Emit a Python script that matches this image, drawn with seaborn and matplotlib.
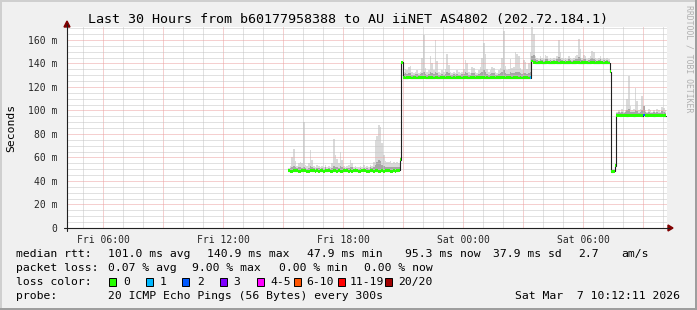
import numpy as np
import pandas as pd
import matplotlib
matplotlib.use("Agg")
import matplotlib.pyplot as plt
import matplotlib.dates as mdates
from matplotlib.patches import Rectangle, Polygon
from matplotlib.lines import Line2D
from matplotlib.ticker import MultipleLocator, FixedLocator, FuncFormatter
import seaborn as sns

# ------------------------------------------------------------------ data
title = "Last 30 Hours from b60177958388 to AU iiNET AS4802 (202.72.184.1)"
start_time = "2026-03-06 15:15"      # first 5-minute step with data
view_start = "2026-03-06 04:12:11"
view_end = "2026-03-07 10:12:11"

median_ms = [
    # Fri afternoon / evening (~48 ms)
    48.8, 48.4, 48.2, 48.6, 48.6, 48.8, 48.4, 48.2, 48.6, 49.0,
    48.6, 48.4, 48.2, 49.2, 48.8, 48.6, 48.4, 48.6, 48.2, 48.6,
    48.8, 48.4, 48.6, 48.6, 49.0, 48.4, 48.2, 48.6, 48.8, 48.4,
    48.6, 48.2, 48.4, 48.6, 48.6, 48.8, 48.4, 48.6, 48.2, 48.6,
    48.8, 48.6, 48.4, 48.2, 49.2, 49.2, 48.8, 48.4, 48.2, 48.6,
    48.6, 48.4, 48.6, 48.8, 48.4, 48.2, 48.6, 48.4, 48.6, 48.8,
    48.6, 48.2, 48.4, 48.6, 48.4, 48.6, 49.0,
    58.0, 141.0,
    # ~128 ms
    128.0, 127.6, 127.8, 128.2, 127.8, 127.6, 127.8, 128.0, 127.6, 127.8,
    127.8, 128.0, 128.2, 127.8, 127.6, 127.8, 128.0, 127.8, 127.6, 128.2,
    127.8, 127.6, 127.8, 127.8, 128.0, 127.6, 127.8, 128.0, 127.8, 127.6,
    127.8, 127.6, 127.8, 128.0, 127.8, 127.6, 127.8, 128.2, 127.8, 127.6,
    127.8, 128.0, 127.8, 127.6, 127.8, 127.8, 128.0, 128.2, 127.8, 127.6,
    127.8, 127.6, 127.8, 128.0, 127.8, 127.6, 127.8, 127.8, 128.0, 128.2,
    127.8, 127.6, 127.8, 128.0, 127.8, 127.6, 127.8, 128.0, 127.8, 127.6,
    127.8, 127.6, 127.8, 128.0, 127.8, 127.6, 128.0,
    142.0,
    # ~140.6 ms
    140.8, 140.6, 140.4, 140.6, 140.8, 140.6, 140.4, 140.6, 140.8, 140.6,
    140.4, 140.6, 140.6, 140.8, 140.6, 140.4, 140.6, 140.8, 140.6, 140.4,
    140.6, 140.6, 140.8, 140.4, 140.6, 140.6, 140.8, 140.6, 140.4, 140.6,
    140.6, 140.8, 140.6, 140.4, 140.6, 140.8, 140.6, 140.4, 140.6, 140.6,
    140.8, 140.6, 140.4, 140.6, 140.6, 140.4,
    133.0, 48.0, 48.2, 53.0,
    # ~95.8 ms
    96.0, 95.8, 95.6, 95.8, 96.0, 95.8, 95.6, 95.8, 96.0, 95.8,
    95.6, 95.8, 95.8, 96.0, 95.8, 95.6, 96.2, 95.8, 95.6, 95.8,
    96.0, 95.8, 95.6, 95.8, 95.8, 96.0, 95.6, 95.8, 95.6, 95.4,
]

smoke_top_ms = [
    51, 53, 60, 67, 57, 53, 55, 56, 55, 90,
    54, 53, 55, 66, 58, 53, 52, 54, 53, 52,
    53, 52, 54, 52, 53, 52, 55, 76, 62, 59,
    55, 65, 58, 53, 52, 53, 54, 58, 55, 52,
    53, 52, 52, 53, 52, 54, 52, 53, 52, 54,
    53, 56, 75, 78, 88, 86, 72, 62, 57, 56,
    56, 57, 55, 56, 55, 56, 55,
    60, 142,
    133, 135, 134, 137, 138, 133, 132, 133, 134, 132,
    133, 145, 164, 136, 133, 134, 146, 140, 134, 160,
    142, 133, 132, 134, 133, 135, 148, 139, 133, 132,
    133, 132, 134, 133, 132, 133, 135, 143, 140, 133,
    132, 137, 136, 133, 132, 134, 137, 145, 157, 148,
    135, 133, 134, 137, 136, 133, 132, 134, 136, 145,
    168, 138, 134, 135, 144, 136, 137, 150, 148, 146,
    136, 134, 143, 141, 135, 140, 150,
    171,
    165, 146, 145, 144, 146, 145, 144, 147, 146, 144,
    145, 144, 145, 144, 146, 160, 150, 145, 144, 145,
    144, 146, 145, 144, 145, 146, 147, 161, 152, 145,
    147, 146, 144, 145, 146, 151, 150, 145, 144, 145,
    146, 144, 145, 144, 145, 144,
    137, 50, 50.5, 55,
    99, 100, 99, 101, 99, 100, 110, 129, 104, 100,
    101, 119, 108, 100, 101, 112, 104, 100, 99, 101,
    100, 99, 100, 99, 101, 100, 99, 103, 102, 100,
]

smoke_mid_ms = [
    50.5, 51, 52, 53, 51.5, 51, 51.5, 51.5, 51, 51.5,
    51, 50.5, 51, 52.5, 51.5, 51, 50.5, 51, 51, 50.5,
    51, 50.5, 51.5, 50.5, 51, 50.5, 51, 53, 52, 51.5,
    51, 52.5, 51.5, 51, 50.5, 51, 51, 51.5, 51.5, 50.5,
    51, 50.5, 50.5, 51, 50.5, 51, 50.5, 51, 50.5, 51.5,
    51, 51.5, 54, 56, 58, 57, 54, 52.5, 52, 52,
    51.5, 52, 51.5, 52, 51.5, 52, 52,
    59, 141.5,
    131, 131.5, 131, 131.5, 132, 130.5, 130.5, 131, 131, 130.5,
    131, 132, 133, 131, 130.5, 131, 132.5, 131.5, 131, 133,
    131.5, 130.5, 130.5, 131, 130.5, 131, 132.5, 131.5, 130.5, 130.5,
    131, 130.5, 131, 130.5, 130.5, 131, 131, 132.5, 131.5, 130.5,
    130.5, 131.5, 131.5, 130.5, 130.5, 131, 131.5, 132.5, 134, 132.5,
    131, 130.5, 131, 131.5, 131.5, 130.5, 130.5, 131, 131.5, 132.5,
    134, 131.5, 131, 131, 132.5, 131.5, 131.5, 133, 133, 132.5,
    131.5, 131, 132, 131.5, 131, 132, 133,
    146,
    147, 143.5, 143, 142.5, 143.5, 143, 142.5, 143.5, 143.5, 142.5,
    143, 142.5, 143, 142.5, 143.5, 145.5, 144, 143, 142.5, 143,
    142.5, 143.5, 143, 142.5, 143, 143.5, 143.5, 145.5, 144.5, 143,
    143.5, 143.5, 142.5, 143, 143.5, 144.5, 144, 143, 142.5, 143,
    143.5, 142.5, 143, 142.5, 143, 142.5,
    135, 49, 49.5, 54,
    98, 98.5, 98, 98.5, 98, 98.5, 100, 101, 99, 98.5,
    98.5, 100.5, 99.5, 98, 99, 100.5, 104, 98.5, 98, 98.5,
    98, 98, 98.5, 98, 98.5, 98, 98, 99.5, 99, 98,
]

# steps with packet loss (index of 5-minute step, lost pings out of 20)
loss_steps = [145, 213]
loss_counts = [1, 2]

loss_labels = ["0", "1", "2", "3", "4-5", "6-10", "11-19", "20/20"]
loss_colors = ["#26ff00", "#00b8ff", "#0059ff", "#7e00ff",
               "#ff00ff", "#ff5500", "#ff0000", "#a10000"]

y_ticks = [0, 20, 40, 60, 80, 100, 120, 140, 160]
y_tick_labels = ["0", "20 m", "40 m", "60 m", "80 m", "100 m", "120 m", "140 m", "160 m"]

stats_rtt = [("median rtt:", 16), ("101.0 ms avg", 107.6), ("140.9 ms max", 207),
             ("47.9 ms min", 306.7), ("95.3 ms now", 405), ("37.9 ms sd", 493),
             ("2.7", 578), ("am/s", 621)]
stats_loss = [("packet loss:", 16), ("0.07 % avg", 107.6), ("9.00 % max", 192),
              ("0.00 % min", 279), ("0.00 % now", 364.4)]
probe_text = "20 ICMP Echo Pings (56 Bytes) every 300s"
stamp_text = "Sat Mar  7 10:12:11 2026"

# ------------------------------------------------------------------ style
W, H = 697, 310
sns.set_style("white")
plt.rcParams["font.family"] = ["DejaVu Sans Mono", "DejaVu Sans"]
plt.rcParams["text.color"] = "#000000"

def fx(x):
    return x / W

def fy(y):
    return 1 - y / H

fig = plt.figure(figsize=(W / 100, H / 100), dpi=100, facecolor="#f0f0f0")
ax = fig.add_axes([fx(67), fy(228), 600 / W, 201 / H])
ax.set_facecolor("white")

n = len(median_ms)
times = pd.date_range(start_time, periods=n, freq="5min")
edges = pd.date_range(start_time, periods=n + 1, freq="5min")
t_num = mdates.date2num(times.to_pydatetime())
e_num = mdates.date2num(edges.to_pydatetime())
step_w = e_num[1] - e_num[0]

med = np.array(median_ms, dtype=float)
top = np.array(smoke_top_ms, dtype=float)
mid = np.array(smoke_mid_ms, dtype=float)
med_e = np.append(med, med[-1])
top_e = np.append(top, top[-1])
mid_e = np.append(mid, mid[-1])

# smoke
ax.fill_between(e_num, med_e - 0.6, top_e, step="post", color="#dadada",
                linewidth=0, zorder=1)
ax.fill_between(e_num, med_e - 0.6, mid_e, step="post", color="#a6a6a6",
                linewidth=0, zorder=1.1)

# median line
df = pd.DataFrame({"t": e_num, "median": med_e})
sns.lineplot(data=df, x="t", y="median", drawstyle="steps-post", color="#202020",
             linewidth=0.8, estimator=None, ax=ax, zorder=2)

# loss coloured median band
loss = np.zeros(n, dtype=int)
for s, c in zip(loss_steps, loss_counts):
    loss[s] = c
def loss_index(c):
    if c <= 3:
        return c
    if c <= 5:
        return 4
    if c <= 10:
        return 5
    if c <= 19:
        return 6
    return 7
bar_cols = [loss_colors[loss_index(c)] for c in loss]
ax.bar(t_num, 2.4, bottom=med - 1.2, width=step_w, align="edge", color=bar_cols,
       linewidth=0, zorder=3, antialiased=False)

# axes, grid
ax.set_xlim(mdates.date2num(pd.Timestamp(view_start)), mdates.date2num(pd.Timestamp(view_end)))
ax.set_ylim(0, 171)
ax.set_xlabel("")
ax.set_ylabel("")
for sp in ax.spines.values():
    sp.set_visible(False)

ax.xaxis.set_major_locator(mdates.HourLocator(byhour=range(0, 24, 3)))
ax.xaxis.set_minor_locator(mdates.HourLocator())
def xfmt(v, p):
    d = mdates.num2date(v)
    return d.strftime("%a %H:%M") if d.hour % 6 == 0 else ""
ax.xaxis.set_major_formatter(FuncFormatter(xfmt))

ax.yaxis.set_major_locator(FixedLocator(y_ticks))
ax.yaxis.set_minor_locator(MultipleLocator(5))
ax.set_yticklabels(y_tick_labels)

ax.set_axisbelow("line")
ax.grid(which="minor", color="#c4c4c4", linestyle=(0, (1, 1)), linewidth=0.72)
ax.grid(which="major", color="#eda0a0", linestyle=(0, (1, 1)), linewidth=0.72)

ax.tick_params(axis="y", which="major", direction="out", length=3, width=0.72,
               color="#404040", labelsize=7.05, pad=4)
ax.tick_params(axis="y", which="minor", direction="out", length=1.5, width=0.72,
               color="#909090")
ax.tick_params(axis="x", which="major", direction="out", length=2.2, width=0.72,
               color="#e08080", labelsize=7.05, pad=3)
ax.tick_params(axis="x", which="minor", direction="out", length=1.5, width=0.72,
               color="#a0a0a0")

# axis lines + arrows (pixel geometry)
fig.add_artist(Line2D([fx(67), fx(67)], [fy(231), fy(24)], color="#202020",
                      linewidth=0.8, transform=fig.transFigure))
fig.add_artist(Line2D([fx(64), fx(669)], [fy(228), fy(228)], color="#202020",
                      linewidth=0.8, transform=fig.transFigure))
fig.add_artist(Polygon([(fx(64), fy(27)), (fx(70), fy(27)), (fx(67), fy(21))],
                       closed=True, color="#800000", transform=fig.transFigure))
fig.add_artist(Polygon([(fx(668), fy(225)), (fx(668), fy(231)), (fx(673), fy(228))],
                       closed=True, color="#800000", transform=fig.transFigure))

# frame shading
fig.add_artist(Rectangle((0, fy(2)), 1, 2 / H, color="#cfcfcf", transform=fig.transFigure, linewidth=0))
fig.add_artist(Rectangle((0, 0), 2 / W, 1, color="#cfcfcf", transform=fig.transFigure, linewidth=0))
fig.add_artist(Rectangle((fx(695), 0), 2 / W, 1, color="#9e9e9e", transform=fig.transFigure, linewidth=0))
fig.add_artist(Rectangle((0, 0), 1, 2 / H, color="#9e9e9e", transform=fig.transFigure, linewidth=0))

# texts
fig.text(fx(348), fy(19), title, ha="center", va="center", fontsize=9.6)
fig.text(fx(11), fy(127.5), "Seconds", ha="center", va="center", rotation=90, fontsize=8.2)
fig.text(fx(688.5), fy(5), "RRDTOOL / TOBI OETIKER", ha="center", va="top",
         rotation=270, fontsize=5.9, color="#b0b0b0")

LF = 8.2
for txt, x in stats_rtt:
    fig.text(fx(x), fy(254), txt, ha="left", va="center", fontsize=LF)
for txt, x in stats_loss:
    fig.text(fx(x), fy(268), txt, ha="left", va="center", fontsize=LF)
fig.text(fx(16), fy(282), "loss color:", ha="left", va="center", fontsize=LF)
box_x = [109, 146, 182, 219.5, 256.5, 294, 337.5, 384.5]
lab_x = [123.3, 160, 196.7, 233, 270, 306.7, 349.3, 397.7]
for lbl, col, bx, lx in zip(loss_labels, loss_colors, box_x, lab_x):
    fig.add_artist(Rectangle((fx(bx), fy(286)), 7 / W, 8 / H, facecolor=col,
                             edgecolor="#000000", linewidth=0.7, transform=fig.transFigure))
    fig.text(fx(lx), fy(282), lbl, ha="left", va="center", fontsize=LF)
fig.text(fx(16), fy(296), "probe:", ha="left", va="center", fontsize=LF)
fig.text(fx(107.6), fy(296), probe_text, ha="left", va="center", fontsize=LF)
fig.text(fx(680), fy(296), stamp_text, ha="right", va="center", fontsize=LF)

fig.savefig("out.png", dpi=100, facecolor=fig.get_facecolor())
